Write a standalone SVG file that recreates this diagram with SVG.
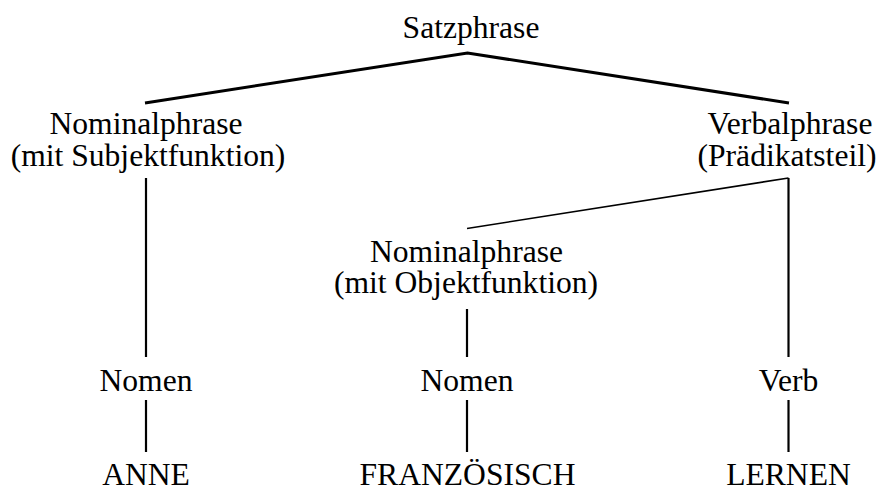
<svg xmlns="http://www.w3.org/2000/svg" width="879" height="488" viewBox="0 0 879 488">
<style>
text{font-family:"Liberation Serif","Times New Roman",serif;font-size:31.6px;fill:#000;text-anchor:middle}
.c line,.c polyline{stroke:#000;fill:none;stroke-linecap:butt}
.thick{stroke-width:3}
.med{stroke-width:2.2}
.thin{stroke-width:1.6}
</style>
<rect width="879" height="488" fill="#fff"/>
<g id="connectors" class="c">
<polyline class="thick" points="145,103 467.5,53 789,103"/>
<line class="med" x1="146" y1="178" x2="146" y2="357"/>
<line class="med" x1="788.5" y1="178" x2="788.5" y2="357"/>
<line class="thin" x1="788.5" y1="178" x2="467" y2="228.5"/>
<line class="med" x1="467" y1="309" x2="467" y2="357"/>
<line class="med" x1="146" y1="400" x2="146" y2="452"/>
<line class="med" x1="467" y1="400" x2="467" y2="452"/>
<line class="med" x1="788.5" y1="400" x2="788.5" y2="452"/>
</g>
<g id="satzphrase"><text x="471" y="38">Satzphrase</text></g>
<g id="np-subjekt"><text x="146" y="134">Nominalphrase</text><text x="148" y="166">(mit Subjektfunktion)</text></g>
<g id="vp"><text x="790" y="134">Verbalphrase</text><text x="787" y="166">(Prädikatsteil)</text></g>
<g id="np-objekt"><text x="466.5" y="262">Nominalphrase</text><text x="466" y="293">(mit Objektfunktion)</text></g>
<g id="nomen1"><text x="146" y="391">Nomen</text></g>
<g id="nomen2"><text x="467" y="391">Nomen</text></g>
<g id="verb"><text x="788.5" y="391">Verb</text></g>
<g id="anne"><text x="146" y="485">ANNE</text></g>
<g id="franzoesisch"><text x="467.5" y="485">FRANZÖSISCH</text></g>
<g id="lernen"><text x="788.5" y="485">LERNEN</text></g>
</svg>
